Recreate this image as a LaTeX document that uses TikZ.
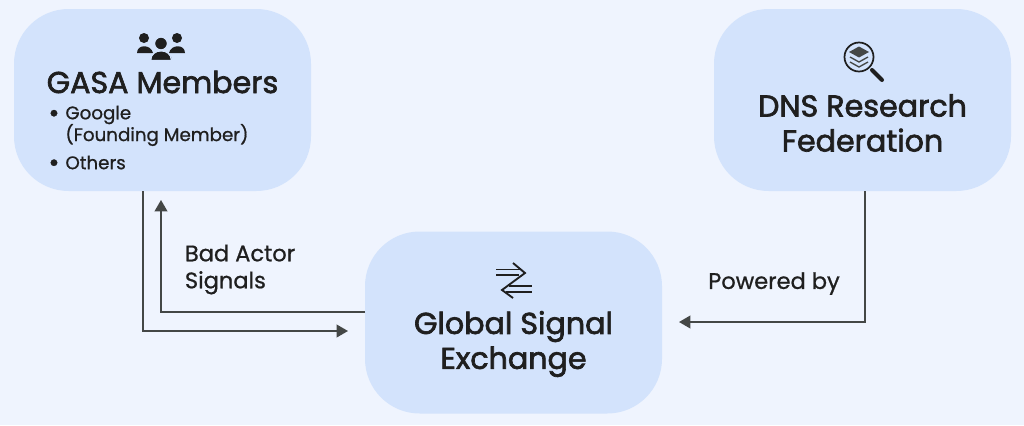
\documentclass[tikz,border=0pt]{standalone}
\usepackage{fontspec}
\setmainfont[FakeBold=0.8]{Poppins}
\newfontfamily\headfont[FakeBold=2.2]{Poppins}
\usetikzlibrary{arrows.meta}
\definecolor{pagebg}{RGB}{239,244,254}
\definecolor{boxfill}{RGB}{211,227,252}
\definecolor{inkdark}{RGB}{31,31,31}
\definecolor{linegrey}{RGB}{68,71,70}
\tikzset{every picture/.style={line width=0.75pt}}
\tikzset{
	panel/.style={fill=boxfill,draw=none,minimum width=222.75pt,minimum height=136.5pt,rounded corners=41pt},
	headtext/.style={text=inkdark,align=center,font=\headfont\fontsize{22.6}{26.2}\selectfont},
	bodytext/.style={text=inkdark,anchor=west,font=\fontsize{13.7}{15}\selectfont},
	bullettext/.style={text=inkdark,font=\fontsize{20}{20}\selectfont},
	labeltext/.style={text=inkdark,align=left,font=\fontsize{16.9}{20.25}\selectfont},
	wire/.style={draw=linegrey,line width=1.3pt,-{Triangle[length=8.5pt,width=9.5pt]}},
}

\begin{document}
\begin{tikzpicture}[x=0.75pt,y=0.75pt,yscale=-1,xscale=1]
	\useasboundingbox [fill=pagebg] (0,0) rectangle (1024,425);

	% Panels
	\node [panel] (gasa) at (162.5,100) {};
	\node [panel] (dns) at (862.5,100) {};
	\node [panel] (gse) at (513.5,322.5) {};

	% Connector ends
	\coordinate (gasaout) at (143,191);
	\coordinate (gasain) at (161,200);
	\coordinate (gseinl) at (348,331);
	\coordinate (gseoutl) at (365,312);
	\coordinate (dnsout) at (865,191);
	\coordinate (gseinr) at (679,322);

	% Connectors
	\draw [wire] (gasaout) |- (gseinl);
	\draw [wire] (gseoutl) -| (gasain);
	\draw [wire] (dnsout) |- (gseinr);

	% People icon
	\fill [inkdark] (144,38) circle (5);
	\fill [inkdark] (137,53) .. controls (137,44) and (151,44) .. (153,53) -- cycle;
	\fill [inkdark] (177,38) circle (5);
	\fill [inkdark] (169,53) .. controls (171,44) and (185,44) .. (185,53) -- cycle;
	\fill [inkdark,draw=boxfill,line width=1pt] (161,43.5) circle (6.5);
	\fill [inkdark,draw=boxfill,line width=1pt] (150.5,60.5) .. controls (150.5,47.5) and (171.5,47.5) .. (171.5,60.5) -- cycle;

	% Magnifier icon
	\draw [inkdark,line width=1.3pt] (859,57) circle (14.5);
	\draw [inkdark,line width=3pt,line cap=round] (872,70) -- (882,80);
	\fill [linegrey] (859,46.5) -- (869,52) -- (859,57.5) -- (849,52) -- cycle;
	\draw [linegrey,line width=1pt] (850,57) -- (859,62) -- (868,57);
	\draw [linegrey,line width=1pt] (850,62) -- (859,67) -- (868,62);

	% Exchange icon
	\draw [inkdark,line width=1.4pt] (513,263) -- (525,273) -- (502,290) -- (513,298);
	\draw [inkdark,line width=1.4pt] (496,269.5) -- (521,269.5);
	\draw [inkdark,line width=1.4pt] (496,275) -- (519,275);
	\draw [inkdark,line width=1.4pt] (509,286) -- (532,286);
	\draw [inkdark,line width=1.4pt] (506,292) -- (532,292);

	% Text Node
	\node [headtext] (gasatitle) at (162.5,82) {GASA Members};
	\node [bullettext] (bulleta) at (54,116) {•};
	\node [bodytext] (google) at (60.5,115) {Google};
	\node [bodytext] (founding) at (60.5,135) {(Founding Member)};
	\node [bullettext] (bulletb) at (54,165.5) {•};
	\node [bodytext] (others) at (60.5,162.5) {Others};
	% Text Node
	\node [headtext] (dnstitle) at (862.5,123) {DNS Research\\Federation};
	% Text Node
	\node [headtext] (gsetitle) at (513.5,344) {Global Signal\\Exchange};
	% Text Node
	\node [labeltext,anchor=west] (badactor) at (180,269.5) {Bad Actor\\Signals};
	% Text Node
	\node [labeltext] (powered) at (774,283.5) {Powered by};
\end{tikzpicture}
\end{document}
